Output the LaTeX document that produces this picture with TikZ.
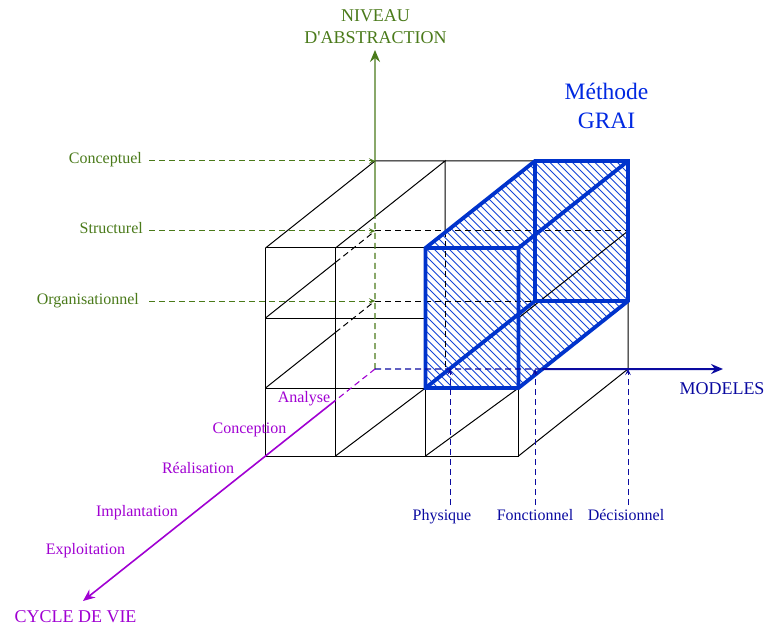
\documentclass[tikz,border=0pt]{standalone}
\usepackage{fontspec}
\setmainfont{Liberation Serif}
\usetikzlibrary{arrows.meta,calc}
\definecolor{gcol}{RGB}{74,122,26}
\definecolor{pcol}{RGB}{160,0,210}
\definecolor{hblue}{RGB}{0,51,204}
\definecolor{hatchc}{RGB}{20,70,215}
\definecolor{dblue}{RGB}{10,10,160}
\definecolor{tblue}{RGB}{0,40,225}
\begin{document}
\begin{tikzpicture}[x=1pt,y=-1pt,
  thin/.style={line width=1pt,black},
  hid/.style={line width=1pt,black,dash pattern=on 6pt off 4pt},
  dsh/.style={dash pattern=on 6pt off 4pt},
  smalltip/.style={-{Stealth[length=6pt,width=5.5pt,inset=2.5pt]}},
  bigtip/.style={-{Stealth[length=12pt,width=10pt,inset=4pt]}},
  blueedge/.style={hblue,line width=3.8pt,line cap=round,line join=miter},
  hatchline/.style={hatchc,line width=0.75pt},
  lab/.style={inner sep=0pt,text height=0.6em,text depth=0pt,font=\fontsize{16}{19}\selectfont},
  biglab/.style={inner sep=0pt,font=\fontsize{18}{22}\selectfont},
]
\useasboundingbox (0,0) rectangle (768,628);
% grid coordinates: front (f) and back (k)
\foreach \c/\x in {a/265.5,b/335.5,c/425.5,d/518.5}{
  \foreach \r/\y in {0/248,1/318,2/388,3/456}{
    \coordinate (f\c\r) at (\x,\y);
    \coordinate (k\c\r) at (\x+109.5,\y-87);
  }}
\coordinate (s1) at ($(fa1)!0.6393!(ka1)$);
\coordinate (s2) at ($(fa2)!0.6393!(ka2)$);
\coordinate (s3) at ($(fa3)!0.6393!(ka3)$);
\coordinate (gs) at ($(fb0)!0.3607!(kb0)$);
\coordinate (bs) at ($(fd2)!0.2184!(kd2)$);
\coordinate (gtip) at (375,50);
\coordinate (ptip) at (83,601);
\coordinate (mtip) at (723,369);
\coordinate (pp0) at (450,505);
\coordinate (pp1) at (450,369);
\coordinate (pf0) at (535,505);
\coordinate (pd0) at (628,505);

% black grid
\draw[thin] (fa0)--(fc0) (fa1)--(fc1) (fa2)--(fc2) (fa3)--(fd3);
\draw[thin] (fa0)--(fa3) (fb0)--(fb3) (fc2)--(fc3) (fd2)--(fd3);
\draw[thin] (fa0)--(ka0)--(kc0) (fb0)--(kb0)--(kb1);
\draw[thin] (fa1)--(s1) (fa2)--(s2);
\draw[hid] (s1)--(ka1) (s2)--(ka2);
\draw[thin] (fb3)--(fc2) (fc3)--(fd2);
\draw[thin] (fd3)--(kd3)--(kd2);

% hatched GRAI block
\begin{scope}
  \clip (fc0)--(kc0)--(kd0)--(kd2)--(fd2)--(fc2)--cycle;
  \foreach \i in {0,...,64}{
    \draw[hatchline] (170+\i*7.5,150) -- ++(260,260);
  }
\end{scope}
\draw[thin] (fd1)--(kd1);
\draw[hid] (ka1)--(kd1) (ka2)--(kc2) (kb1)--(kb3);
\draw[blueedge] (fc0)--(kc0)--(kd0)--(kd2)--(fd2)--(fc2)--cycle;
\draw[blueedge] (fc0)--(fd0)--(fd2) (fd0)--(kd0) (kc0)--(kc2)--(kd2) (fc2)--(kc2);

% axes
\draw[gcol,line width=1.2pt,dsh] (ka3)--(gs);
\draw[gcol,line width=1.3pt,bigtip] (gs)--(gtip);
\draw[pcol,line width=1.1pt,dsh] (ka3)--(s3);
\draw[pcol,line width=1.6pt,bigtip] (s3)--(ptip);
\draw[dblue,line width=1.1pt,dsh] (ka3)--(bs);
\draw[dblue,line width=2pt,bigtip] (bs)--(mtip);

% axis titles
\node[biglab,gcol,align=center] (tniv) at (375.5,27) {NIVEAU\\D\textquotesingle ABSTRACTION};
\node[biglab,dblue] (tmod) at (722,389) {MODELES};
\node[biglab,pcol] (tcyc) at (75.5,617) {CYCLE DE VIE};
\node[inner sep=0pt,tblue,align=center,font=\fontsize{23.5}{29}\selectfont] (tgrai) at (606.5,106) {Méthode\\GRAI};

% abstraction levels
\node[lab,gcol,anchor=east] (lconc) at (142,161) {Conceptuel};
\node[lab,gcol,anchor=east] (lstru) at (143,231) {Structurel};
\node[lab,gcol,anchor=east] (lorga) at (139,301) {Organisationnel};
\draw[gcol,line width=1pt,dsh,smalltip,shorten <=7pt] (lconc.east)--(ka0);
\draw[gcol,line width=1pt,dsh,smalltip,shorten <=6pt] (lstru.east)--(ka1);
\draw[gcol,line width=1pt,dsh,smalltip,shorten <=10pt] (lorga.east)--(ka2);

% model types
\node[lab,dblue] (lphy) at (442,517) {Physique};
\node[lab,dblue] (lfon) at (535,517) {Fonctionnel};
\node[lab,dblue] (ldec) at (626,517) {Décisionnel};
\draw[dblue,line width=1pt,dsh,smalltip] (pp0)--(pp1);
\draw[dblue,line width=1pt,dsh,smalltip] (pf0)--(kc3);
\draw[dblue,line width=1pt,dsh,smalltip] (pd0)--(kd3);

% life cycle phases
\node[lab,pcol] (lana) at (304,399) {Analyse};
\node[lab,pcol] (lcon) at (249.5,430) {Conception};
\node[lab,pcol] (lrea) at (198,470) {Réalisation};
\node[lab,pcol] (limp) at (137,513) {Implantation};
\node[lab,pcol] (lexp) at (85.5,551) {Exploitation};
\end{tikzpicture}
\end{document}
